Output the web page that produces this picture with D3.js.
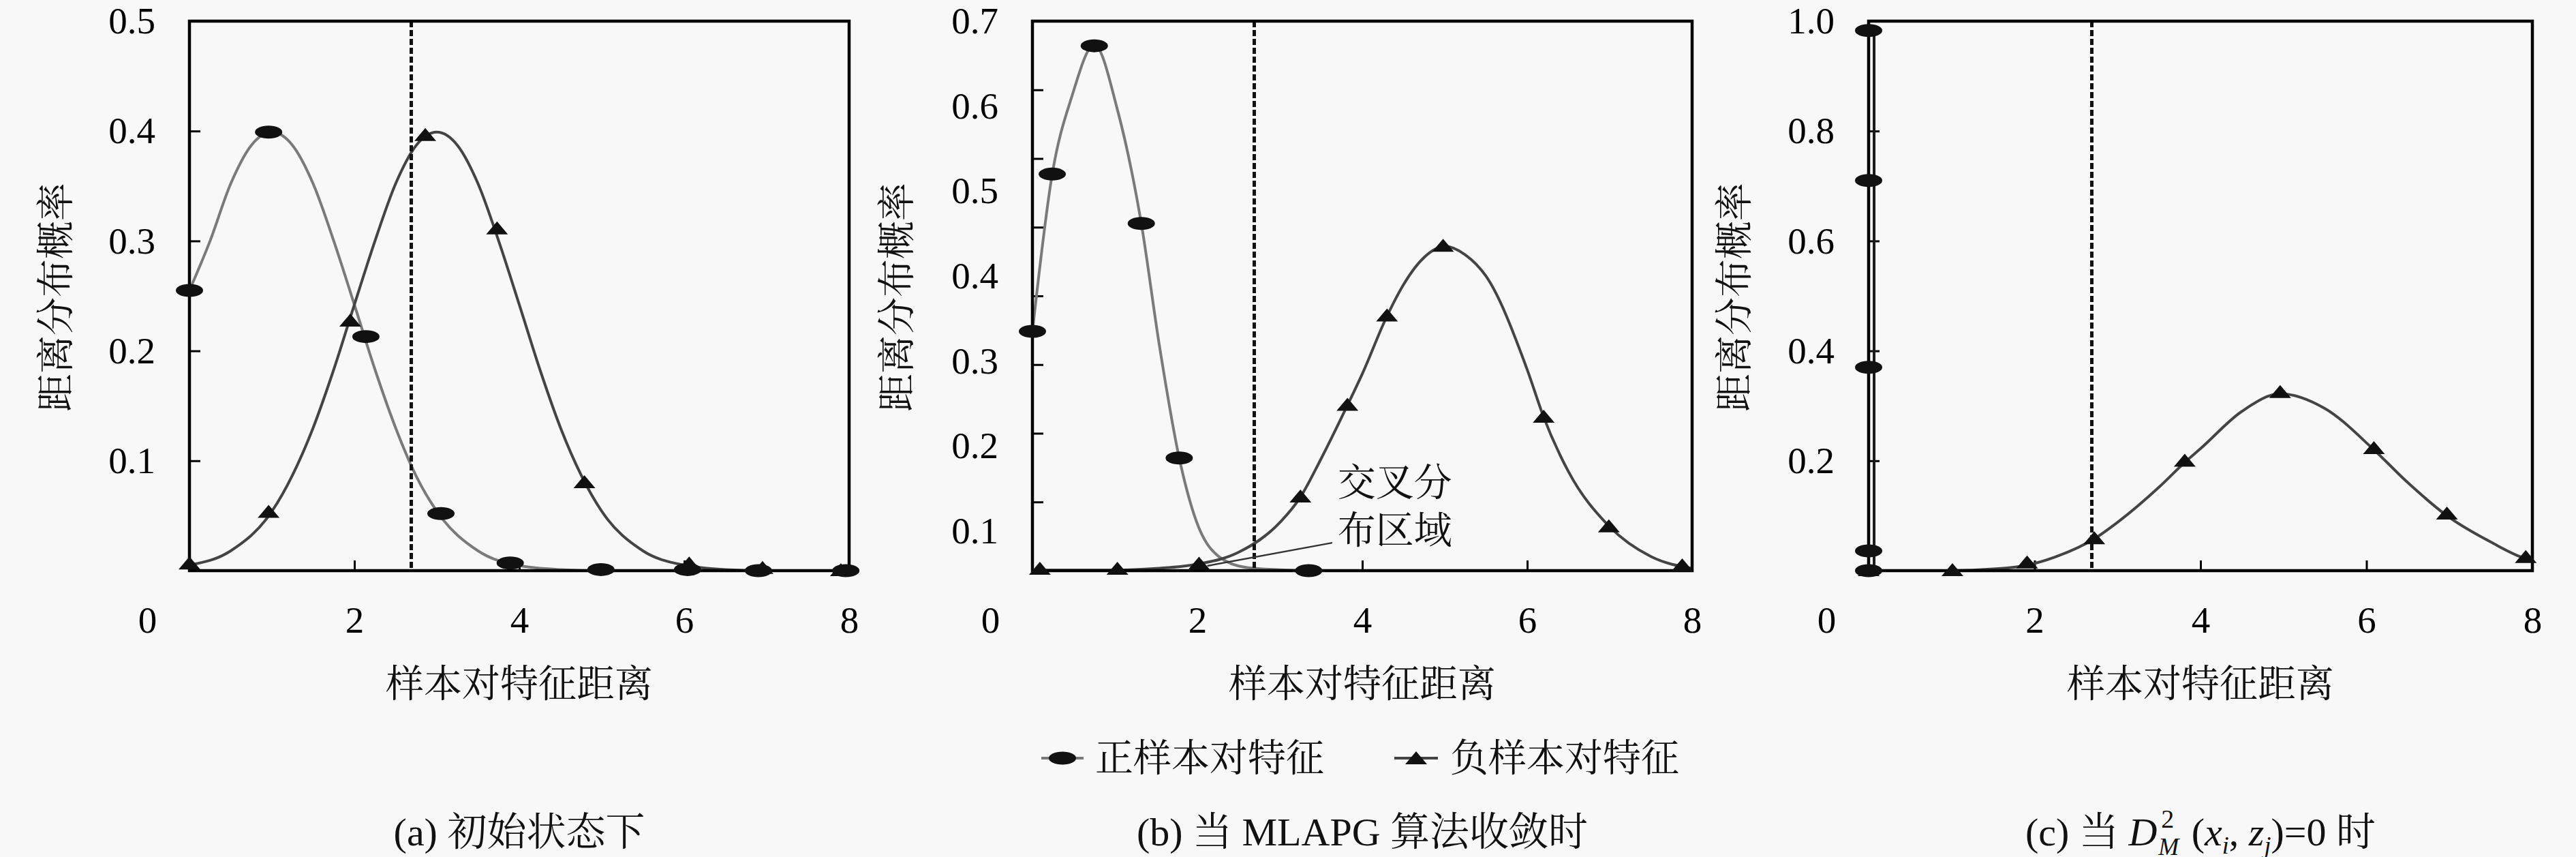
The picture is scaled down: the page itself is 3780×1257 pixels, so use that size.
<!DOCTYPE html>
<html><head><meta charset="utf-8">
<script src="https://cdn.jsdelivr.net/npm/d3@7"></script>
<style>
html,body{margin:0;padding:0;background:#f8f8f8;}
svg{display:block;}
</style></head>
<body>
<script>
// ---------------- data ----------------
const xTicks = [0, 2, 4, 6, 8];
const yTicksA = [0.1, 0.2, 0.3, 0.4, 0.5];
const yTicksB = [0.1, 0.2, 0.3, 0.4, 0.5, 0.6, 0.7];
const yTicksC = [0.2, 0.4, 0.6, 0.8, 1.0];
const yDomainA = [0, 0.5];
const yDomainB = [0.0534, 0.7];
const yDomainC = [0, 1.0];
const threshold = 2.69;

const yLabel = "距离分布概率";
const xLabel = "样本对特征距离";
const legendLabels = ["正样本对特征", "负样本对特征"];
const subtitleA = "(a) 初始状态下";
const subtitleB = "(b) 当 MLAPG 算法收敛时";
const annotationLines = ["交叉分", "布区域"];
// annotation anchor (data units of panel b): text start and leader line
const annotationText = [[3.70, 0.157], [3.70, 0.1007]];
const annotationLeader = [[3.636, 0.0862], [2.12, 0.059]];

// panel (a)
const posCurveA = [[0,0.255],[0.25,0.30],[0.5,0.352],[0.75,0.387],[1.0,0.399],[1.25,0.387],[1.5,0.352],[1.75,0.30],[2.0,0.242],[2.25,0.183],[2.5,0.13],[2.75,0.086],[3.0,0.054],[3.5,0.018],[4.0,0.0045],[4.5,0.001],[5,0],[8,0]];
const negCurveA = [[0,0.005],[0.5,0.018],[1.0,0.054],[1.5,0.13],[1.75,0.183],[2.0,0.242],[2.25,0.30],[2.5,0.352],[2.75,0.387],[3.0,0.399],[3.25,0.387],[3.5,0.352],[3.75,0.30],[4.0,0.242],[4.25,0.183],[4.5,0.13],[5.0,0.054],[5.5,0.018],[6.0,0.005],[6.5,0.001],[7,0],[8,0]];
const posMarkA = [[0,0.255],[0.96,0.399],[2.14,0.213],[3.05,0.052],[3.89,0.007],[4.99,0.001],[6.04,0.001],[6.9,0],[7.96,0]];
const negMarkA = [[0,0.006],[0.96,0.053],[1.95,0.227],[2.86,0.396],[3.73,0.311],[4.79,0.080],[6.06,0.006],[6.95,0.002],[7.9,0]];

// panel (b)
const posCurveB = [[0,0.335],[0.24,0.52],[0.48,0.612],[0.75,0.672],[1.03,0.596],[1.32,0.462],[1.54,0.318],[1.78,0.186],[1.99,0.111],[2.26,0.07],[2.6,0.057],[3.0,0.0545],[3.5,0.0534],[8,0.0534]];
const negCurveB = [[0,0.054],[1,0.054],[1.5,0.056],[2.0,0.061],[2.5,0.075],[3.0,0.11],[3.25,0.14],[3.5,0.185],[3.82,0.248],[4.0,0.285],[4.3,0.353],[4.5,0.39],[4.75,0.422],[5.0,0.435],[5.25,0.425],[5.5,0.40],[6.0,0.29],[6.2,0.234],[6.5,0.17],[7.0,0.105],[7.5,0.07],[8.0,0.056]];
const posMarkB = [[0,0.335],[0.24,0.520],[0.75,0.671],[1.32,0.462],[1.78,0.186],[3.35,0.0534]];
const negMarkB = [[0.09,0.055],[1.03,0.055],[2.02,0.061],[3.25,0.140],[3.82,0.248],[4.30,0.353],[4.98,0.435],[6.2,0.234],[6.99,0.105],[7.88,0.059]];

// panel (c)
const posCurveC = [[0,0.983],[0.066,0.983],[0.066,0],[8,0]];
const negCurveC = [[0,0],[1,0],[1.5,0.003],[1.91,0.01],[2.25,0.025],[2.72,0.058],[3.0,0.088],[3.5,0.152],[3.81,0.197],[4.0,0.222],[4.5,0.29],[4.96,0.322],[5.5,0.295],[6.09,0.22],[6.5,0.16],[6.97,0.1],[7.5,0.052],[7.92,0.022],[8,0.019]];
const posMarkC = [[0,0.983],[0,0.71],[0,0.37],[0,0.036],[0,0]];
const negMarkC = [[0,0],[1.01,0],[1.91,0.014],[2.72,0.058],[3.81,0.199],[4.96,0.324],[6.09,0.222],[6.97,0.103],[7.92,0.024]];

// ---------------- drawing ----------------
const W = 3780, H = 1257;
const NUM_FONT = "'Liberation Serif','Times New Roman',serif";
const CJK_FONT = "'Liberation Serif','Noto Serif CJK SC','Noto Sans CJK SC',serif";
const POS_COLOR = "#7a7a7a", NEG_COLOR = "#444";

const svg = d3.select("body").append("svg").attr("width", W).attr("height", H);
svg.append("rect").attr("width", W).attr("height", H).attr("fill", "#f8f8f8");

const plotTop = 31, plotBottom = 837;

const panels = [
  {x0: 278,  x1: 1246, yDomain: yDomainA, yLabels: yTicksA, posC: posCurveA, negC: negCurveA, posM: posMarkA, negM: negMarkA, yLab: 82,   marks: null, posColor: POS_COLOR},
  {x0: 1515, x1: 2483, yDomain: yDomainB, yLabels: yTicksB, posC: posCurveB, negC: negCurveB, posM: posMarkB, negM: negMarkB, yLab: 1316, marks: 8, posColor: POS_COLOR},
  {x0: 2742, x1: 3716, yDomain: yDomainC, yLabels: yTicksC, posC: posCurveC, negC: negCurveC, posM: posMarkC, negM: negMarkC, yLab: 2545, marks: null, linear: true, posColor: "#1a1a1a"}
];

function ellipse(g, x, y) {
  g.append("ellipse").attr("cx", x).attr("cy", y).attr("rx", 20).attr("ry", 9.5).attr("fill", "#111");
}
function triangle(g, x, y) {
  g.append("path").attr("d", `M${x-16},${y+8}L${x+16},${y+8}L${x},${y-11}Z`).attr("fill", "#111");
}

panels.forEach((p, i) => {
  const g = svg.append("g");
  const x = d3.scaleLinear().domain([0, 8]).range([p.x0, p.x1]);
  const y = d3.scaleLinear().domain(p.yDomain).range([plotBottom, plotTop]);

  // y axis labels
  const yLabAxis = d3.axisLeft(y).tickValues(p.yLabels).tickFormat(d3.format(".1f"))
    .tickSize(p.marks ? 0 : -16).tickPadding(50);
  const ya = g.append("g").attr("transform", `translate(${p.x0},0)`).call(yLabAxis);
  ya.select(".domain").remove();
  ya.selectAll("line").attr("stroke", "#000").attr("stroke-width", 3);
  ya.selectAll("text").style("font-family", NUM_FONT).style("font-size", "55px").attr("fill", "#000");

  if (p.marks) {
    const d0 = p.yDomain[0], d1 = p.yDomain[1];
    const markVals = d3.range(1, p.marks).map(k => d0 + k * (d1 - d0) / p.marks);
    const ym = g.append("g").attr("transform", `translate(${p.x0},0)`)
      .call(d3.axisLeft(y).tickValues(markVals).tickFormat("").tickSize(-16));
    ym.select(".domain").remove();
    ym.selectAll("line").attr("stroke", "#000").attr("stroke-width", 3);
  }

  // x axis
  const xa = g.append("g").attr("transform", `translate(0,${plotBottom})`)
    .call(d3.axisBottom(x).tickValues(xTicks).tickFormat(d3.format("d")).tickSize(-15).tickPadding(52));
  xa.select(".domain").remove();
  xa.selectAll("line").attr("stroke", "#000").attr("stroke-width", 3);
  xa.selectAll("text").style("font-family", NUM_FONT).style("font-size", "55px").attr("fill", "#000")
    .attr("x", d => d === 0 ? -62 : 0);

  // curves
  const line = d3.line().x(d => x(d[0])).y(d => y(d[1]))
    .curve(p.linear ? d3.curveLinear : d3.curveMonotoneX);
  const lineN = d3.line().x(d => x(d[0])).y(d => y(d[1])).curve(d3.curveMonotoneX);
  g.append("path").attr("d", line(p.posC)).attr("fill", "none").attr("stroke", p.posColor).attr("stroke-width", 4);
  g.append("path").attr("d", lineN(p.negC)).attr("fill", "none").attr("stroke", NEG_COLOR).attr("stroke-width", 4);

  // threshold dashed line
  g.append("line").attr("x1", x(threshold)).attr("x2", x(threshold)).attr("y1", plotTop).attr("y2", plotBottom)
    .attr("stroke", "#111").attr("stroke-width", 5).attr("stroke-dasharray", "9,4");

  // frame
  g.append("rect").attr("x", p.x0).attr("y", plotTop).attr("width", p.x1 - p.x0).attr("height", plotBottom - plotTop)
    .attr("fill", "none").attr("stroke", "#000").attr("stroke-width", 4.5);

  // markers
  p.negM.forEach(d => triangle(g, x(d[0]), y(d[1])));
  p.posM.forEach(d => ellipse(g, x(d[0]), y(d[1])));

  // axis titles
  g.append("text").attr("transform", `translate(${p.yLab},436) rotate(-90)`)
    .attr("text-anchor", "middle").attr("dominant-baseline", "central")
    .style("font-family", CJK_FONT).style("font-size", "56px").attr("fill", "#111").text(yLabel);
  g.append("text").attr("x", (p.x0 + p.x1) / 2).attr("y", 1003)
    .attr("text-anchor", "middle").attr("dominant-baseline", "central")
    .style("font-family", CJK_FONT).style("font-size", "56px").attr("fill", "#111").text(xLabel);

  // annotation in panel b
  if (i === 1) {
    annotationLines.forEach((t, k) => {
      g.append("text").attr("x", x(annotationText[k][0])).attr("y", y(annotationText[k][1]))
        .attr("dominant-baseline", "central")
        .style("font-family", CJK_FONT).style("font-size", "56px").attr("fill", "#111").text(t);
    });
    g.append("line")
      .attr("x1", x(annotationLeader[0][0])).attr("y1", y(annotationLeader[0][1]))
      .attr("x2", x(annotationLeader[1][0])).attr("y2", y(annotationLeader[1][1]))
      .attr("stroke", "#333").attr("stroke-width", 2.5);
  }
});

// legend
const lg = svg.append("g");
const legendY = 1112;
lg.append("line").attr("x1", 1528).attr("x2", 1590).attr("y1", legendY).attr("y2", legendY).attr("stroke", POS_COLOR).attr("stroke-width", 4);
ellipse(lg, 1559, legendY);
lg.append("text").attr("x", 1607).attr("y", legendY).attr("dominant-baseline", "central")
  .style("font-family", CJK_FONT).style("font-size", "56px").attr("fill", "#111").text(legendLabels[0]);
lg.append("line").attr("x1", 2046).attr("x2", 2110).attr("y1", legendY).attr("y2", legendY).attr("stroke", NEG_COLOR).attr("stroke-width", 4);
triangle(lg, 2078, legendY + 1);
lg.append("text").attr("x", 2128).attr("y", legendY).attr("dominant-baseline", "central")
  .style("font-family", CJK_FONT).style("font-size", "56px").attr("fill", "#111").text(legendLabels[1]);

// subtitles
const subY = 1220;
[[subtitleA, (278 + 1246) / 2], [subtitleB, (1515 + 2483) / 2]].forEach(([t, cx]) => {
  svg.append("text").attr("x", cx).attr("y", subY).attr("text-anchor", "middle").attr("dominant-baseline", "central")
    .style("font-family", CJK_FONT).style("font-size", "58px").attr("fill", "#111").text(t);
});

// subtitle (c) with math
const pieces = [
  {t: "(c) 当 ", size: 58},
  {t: "D", size: 58, italic: true},
  {t: "2", size: 38, shift: -26, noAdvance: true, dx: 6},
  {t: "M", size: 36, italic: true, shift: 14, dx: 2},
  {t: " (", size: 58, dx: 4},
  {t: "x", size: 58, italic: true},
  {t: "i", size: 36, italic: true, shift: 12},
  {t: ", ", size: 58},
  {t: "z", size: 58, italic: true},
  {t: "j", size: 36, italic: true, shift: 12},
  {t: ")=0 时", size: 58}
];
const sg = svg.append("g");
let cursor = 0;
pieces.forEach(p => {
  const el = sg.append("text").attr("x", cursor + (p.dx || 0)).attr("y", p.shift || 0)
    .style("font-family", CJK_FONT).style("font-size", p.size + "px")
    .style("font-style", p.italic ? "italic" : "normal").attr("fill", "#111")
    .style("white-space", "pre").text(p.t);
  const w = el.node().getComputedTextLength();
  if (!p.noAdvance) cursor += w + (p.dx || 0);
});
sg.attr("transform", `translate(${(2742 + 3716) / 2 - cursor / 2},${subY + 20})`);
</script>
</body></html>
